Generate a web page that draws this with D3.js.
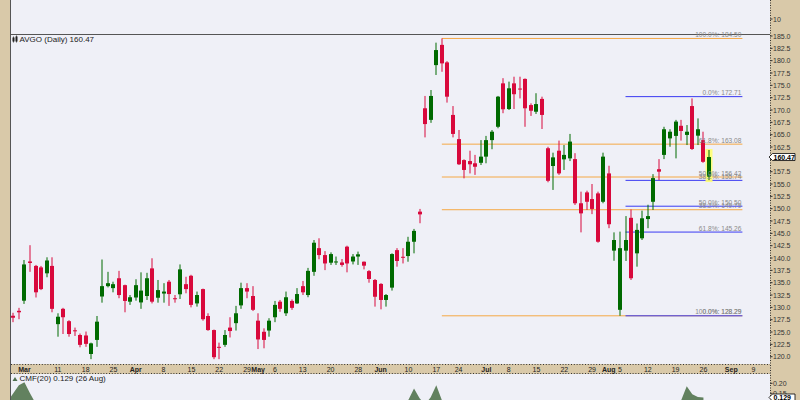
<!DOCTYPE html>
<html><head><meta charset="utf-8">
<script src="https://cdn.jsdelivr.net/npm/d3@7"></script>
<style>
body{margin:0;background:#fff}
svg{display:block}
text{font-family:"Liberation Sans",Arial,sans-serif}
</style>
</head><body>
<svg id="c" width="800" height="400"></svg>
<script>
// ---------------- DATA ----------------
const symbol = "AVGO (Daily) 160.47";
const cmfTitle = "CMF(20) 0.129 (26 Aug)";
const firstDay = "2024-02-27", lastDay = "2024-09-16";
const holidays = ["2024-03-29","2024-05-27","2024-06-19","2024-07-04","2024-09-02"];
const firstCandle = "2024-02-28";

const opens = [128.3,129.3,131.35,139.3,138.4,138.1,136.9,138.4,126.6,129.7,
 127.2,125.35,124.4,124.3,120.55,123.4,132.2,134.3,133.9,135.9,
 134.5,131.15,132.0,131.0,132.3,137.9,131.95,132.8,135.2,131.85,
 132.65,134.7,136.4,130.8,133.7,128.25,125.4,122.0,122.4,125.9,
 126.8,130.4,133.9,132.3,127.3,125.05,125.3,128.0,131.15,128.8,
 131.3,130.8,134.3,132.5,137.2,142.0,140.6,139.05,139.2,139.1,
 142.3,139.3,140.3,139.25,137.35,135.55,134.75,131.5,134.0,141.6,
 140.25,140.4,143.3,149.4,170.35,168.0,179.1,183.2,179.65,169.0,
 164.1,159.85,159.65,159.2,159.3,160.55,163.9,166.6,175.4,170.2,
 175.4,174.35,176.3,171.0,169.65,172.25,162.25,158.65,161.75,160.0,
 160.2,160.05,151.1,153.3,151.95,153.1,151.4,157.15,141.5,129.5,
 141.5,148.15,140.95,144.0,147.9,151.4,158.0,160.9,164.25,164.75,
 166.8,164.95,170.8,164.8,163.9,156.5];
const highs = [128.9,129.9,139.6,142.6,138.6,138.4,140.15,140.15,128.8,129.9,
 127.4,125.9,124.7,125.1,122.85,128.25,139.7,137.2,135.2,137.4,
 134.6,132.5,135.7,137.1,137.0,139.95,135.55,134.9,135.55,132.5,
 138.7,136.2,136.6,133.2,133.8,128.8,125.5,122.85,125.4,128.0,
 130.3,135.0,134.9,134.3,128.8,125.75,127.8,131.3,131.5,133.2,
 131.6,133.9,135.35,138.0,143.65,144.0,141.4,141.15,140.3,139.8,
 142.5,140.8,141.3,139.3,137.55,135.75,134.9,132.7,140.95,142.0,
 142.0,144.3,145.9,149.95,172.85,174.05,183.65,184.5,179.9,170.8,
 165.95,160.0,161.75,160.9,163.9,164.75,165.95,172.85,176.45,175.75,
 176.75,176.75,176.4,171.35,173.4,172.7,162.55,161.35,163.8,162.9,
 165.15,161.25,153.45,153.65,155.0,153.45,161.35,158.7,145.2,145.35,
 148.5,149.85,147.0,149.6,150.8,157.0,160.05,166.6,166.1,168.0,
 168.0,166.95,172.35,168.3,165.6,161.9];
const lows = [127.0,127.6,130.7,137.2,132.0,133.5,136.1,129.0,124.05,124.6,
 124.05,124.2,121.9,122.0,119.5,122.0,130.95,134.05,133.05,131.85,
 129.0,130.5,131.35,129.7,131.5,130.8,130.95,130.95,130.3,130.95,
 131.7,132.85,130.0,130.15,127.3,125.25,119.5,119.5,122.0,123.9,
 125.3,129.7,131.85,129.25,121.55,121.7,124.05,127.0,129.1,128.25,
 129.5,130.7,132.5,132.05,136.4,139.75,137.55,138.6,138.6,138.25,
 137.1,138.7,138.6,137.7,135.0,130.15,129.6,130.15,133.4,138.25,
 138.9,139.25,140.95,147.05,164.45,167.4,177.1,177.75,171.5,164.45,
 158.85,156.15,157.15,156.85,158.85,159.2,162.05,166.3,169.35,170.0,
 170.2,172.35,166.6,168.8,169.2,166.15,155.35,153.8,156.85,157.85,
 159.65,150.75,145.2,149.75,148.9,143.1,151.1,146.05,139.45,128.29,
 139.4,135.55,138.25,143.65,146.05,149.75,155.8,160.05,162.55,160.2,
 163.8,162.9,161.9,162.9,159.3,155.8];
const closes = [127.9,129.0,138.7,139.0,133.05,133.7,139.5,129.7,128.1,128.0,
 124.6,125.2,122.4,122.6,122.7,127.1,134.3,134.9,134.7,132.5,
 131.3,132.05,134.5,133.4,135.9,131.15,133.5,133.2,132.7,131.7,
 137.7,133.7,130.5,132.5,127.6,125.4,119.9,121.85,124.4,125.2,
 128.8,133.9,133.2,129.5,123.5,123.4,127.3,130.5,129.7,132.05,
 129.9,132.7,133.05,137.4,143.1,140.6,138.9,140.8,139.3,138.6,
 138.9,140.3,140.75,138.45,135.75,132.15,131.5,132.5,140.8,139.4,
 140.1,143.3,145.5,148.85,167.15,172.85,182.15,179.45,172.7,165.15,
 159.0,157.85,159.0,158.5,160.55,163.9,165.6,172.7,170.15,174.4,
 173.2,174.2,170.35,169.85,171.2,169.0,155.65,160.4,157.15,160.9,
 163.6,151.1,149.05,151.4,149.95,143.3,160.55,146.85,143.65,142.0,
 143.65,135.9,145.7,148.05,148.5,156.2,157.5,166.1,165.6,167.65,
 165.75,165.6,162.1,166.1,159.5,160.47];

// Chaikin Money Flow (only tops above ~0.115 are visible in the panel)
const cmfDates = ["2024-02-27","2024-02-28","2024-02-29","2024-03-01","2024-03-04","2024-03-05","2024-03-06",
 "2024-03-15","2024-04-05","2024-04-26","2024-05-17","2024-06-05","2024-06-07","2024-06-10","2024-06-11",
 "2024-06-12","2024-06-13","2024-06-14","2024-06-17","2024-06-18","2024-06-20","2024-06-21","2024-07-10",
 "2024-07-24","2024-08-05","2024-08-15","2024-08-19","2024-08-20","2024-08-21","2024-08-22","2024-08-23","2024-08-26"];
const cmfValues = [0.11,0.15,0.19,0.205,0.15,0.10,0.08,
 0.02,0.0,-0.05,0.03,0.07,0.09,0.118,0.174,
 0.125,0.095,0.13,0.19,0.116,0.09,0.08,0.05,
 0.0,-0.05,0.08,0.10,0.115,0.185,0.145,0.132,0.129];

// Fibonacci retracement levels
const fibOrangeLevels = [184.50,163.08,156.42,149.79,128.29];
const fibOrangeText = ["100.0%: 184.50","61.8%: 163.08","50.0%: 156.42","38.2%: 149.79","0.0%: 128.29"];
const fibOrangeSpan = ["2024-06-18","2024-09-05"];
const fibBlueLevels = [172.71,155.74,150.50,145.26,128.29];
const fibBlueText = ["0.0%: 172.71","38.2%: 155.74","50.0%: 150.50","61.8%: 145.26","100.0%: 128.29"];
const fibBlueSpan = ["2024-08-06","2024-09-05"];

const priceTicks = [120,122.5,125,127.5,130,132.5,135,137.5,140,142.5,145,147.5,150,152.5,155,157.5,160,162.5,165,167.5,170,172.5,175,177.5,180,182.5,185];
const lastPrice = 160.47;
const cmfTicks = [0.15,0.20];
const cmfLast = 0.129;
const tickDates = ["2024-03-01","2024-03-11","2024-03-18","2024-03-25","2024-04-01","2024-04-08","2024-04-15","2024-04-22","2024-04-29",
 "2024-05-01","2024-05-06","2024-05-13","2024-05-20","2024-05-28","2024-06-03","2024-06-10","2024-06-17","2024-06-24",
 "2024-07-01","2024-07-08","2024-07-15","2024-07-22","2024-07-29","2024-08-01","2024-08-05","2024-08-12","2024-08-19","2024-08-26",
 "2024-09-03","2024-09-09"];
const tickText = ["Mar","11","18","25","Apr","8","15","22","29","May","6","13","20","28","Jun","10","17","24",
 "Jul","8","15","22","29","Aug","5","12","19","26","Sep","9"];

// ---------------- BUILD ----------------
const parse = d3.utcParse("%Y-%m-%d"), fmt = d3.utcFormat("%Y-%m-%d");
const hol = new Set(holidays);
const days = [];
for (let d = parse(firstDay); d <= parse(lastDay); d = d3.utcDay.offset(d, 1)) {
  const wd = d.getUTCDay(), s = fmt(d);
  if (wd !== 0 && wd !== 6 && !hol.has(s)) days.push(s);
}
const dIdx = new Map(days.map((d, i) => [d, i]));
const c0 = dIdx.get(firstCandle);
const candles = opens.map((o, i) => ({date: days[c0 + i], o, h: highs[i], l: lows[i], c: closes[i]}));

const PL = 11, PR = 770;
const x = d3.scaleLinear().domain([dIdx.get(firstCandle), dIdx.get(firstCandle) + 125]).range([13.3, 709]);
const xd = s => x(dIdx.get(s));
const y = d3.scaleLinear().domain([120, 185]).range([356.7, 36]);
const yc = d3.scaleLinear().domain([0.15, 0.20]).range([393.3, 383.3]);

const svg = d3.select("#c");
const bg = "#eff0f7", tan = "#d9c9a9";
const UP = "#006a00", DN = "#d8093c";

svg.append("rect").attr("width", 800).attr("height", 400).attr("fill", bg);
svg.append("rect").attr("x", 0).attr("y", 0).attr("width", 10).attr("height", 400).attr("fill", tan);
svg.append("rect").attr("x", PR).attr("y", 0).attr("width", 30).attr("height", 400).attr("fill", tan);
svg.append("rect").attr("x", PL).attr("y", 364).attr("width", PR - PL).attr("height", 10).attr("fill", tan);
svg.append("line").attr("x1", 10.5).attr("x2", 10.5).attr("y1", 0).attr("y2", 400).attr("stroke", "#555");
svg.append("line").attr("x1", PL).attr("x2", PR).attr("y1", 34.5).attr("y2", 34.5).attr("stroke", "#555");
[364.5, 373.5].forEach(yy => svg.append("line").attr("x1", PL).attr("x2", PR).attr("y1", yy).attr("y2", yy)
  .attr("stroke", "#333").attr("stroke-dasharray", "1,1.8"));
svg.append("line").attr("x1", 770.5).attr("x2", 770.5).attr("y1", 0).attr("y2", 400)
  .attr("stroke", "#333").attr("stroke-dasharray", "1,1.5");

const defs = svg.append("defs");
defs.append("clipPath").attr("id", "mainClip").append("rect").attr("x", PL).attr("y", 35).attr("width", PR - PL).attr("height", 329);
defs.append("clipPath").attr("id", "cmfClip").append("rect").attr("x", PL).attr("y", 375).attr("width", PR - PL).attr("height", 25);

// ---- Fibonacci lines
const main = svg.append("g").attr("clip-path", "url(#mainClip)");
function fib(levels, texts, span, color) {
  const x1 = xd(span[0]), x2 = xd(span[1]);
  levels.forEach(v => {
    main.append("line").attr("x1", x1).attr("x2", x2).attr("y1", y(v)).attr("y2", y(v))
      .attr("stroke", color).attr("stroke-width", 1);
  });
  return {x2, levels, texts};
}
const fo = fib(fibOrangeLevels, fibOrangeText, fibOrangeSpan, "#f5a845");
const fb = fib(fibBlueLevels, fibBlueText, fibBlueSpan, "#3a3af2");

// ---- yellow highlight on last candle
const lastC = candles[candles.length - 1];
{
  const xr = Math.round(xd(lastC.date));
  main.append("rect").attr("x", xr - 3.5).attr("width", 7)
    .attr("y", y(lastC.h) - 1).attr("height", y(lastC.l) - y(lastC.h) + 3)
    .attr("fill", "#ffff70").attr("opacity", 0.9);
}

// ---- candles
const cg = main.append("g");
candles.forEach(d => {
  const xr = Math.round(xd(d.date));
  const col = d.c >= d.o ? UP : DN;
  cg.append("line").attr("x1", xr).attr("x2", xr).attr("y1", y(d.h)).attr("y2", y(d.l))
    .attr("stroke", col).attr("stroke-width", 1);
  const top = y(Math.max(d.o, d.c)), bot = y(Math.min(d.o, d.c));
  cg.append("rect").attr("x", xr - 2).attr("width", 4).attr("y", top).attr("height", Math.max(1, bot - top))
    .attr("fill", col);
});

// ---- fib labels
function fibLabels(f) {
  f.levels.forEach((v, i) => {
    svg.append("text").attr("x", f.x2 - 1).attr("y", y(v) - 1.3).attr("text-anchor", "end")
      .attr("font-size", 6.6).attr("fill", "#8a8a8a").text(f.texts[i]);
  });
}
fibLabels(fo);
fibLabels(fb);

// ---- title
function candleIcon(g, x0, y0) {
  g.append("rect").attr("x", x0).attr("y", y0 + 1).attr("width", 2).attr("height", 4).attr("fill", "#222");
  g.append("rect").attr("x", x0 + 3).attr("y", y0).attr("width", 2).attr("height", 5).attr("fill", "#222");
  g.append("line").attr("x1", x0 + 1).attr("x2", x0 + 1).attr("y1", y0).attr("y2", y0 + 6).attr("stroke", "#222").attr("stroke-width", 0.7);
  g.append("line").attr("x1", x0 + 4).attr("x2", x0 + 4).attr("y1", y0 - 1).attr("y2", y0 + 6).attr("stroke", "#222").attr("stroke-width", 0.7);
}
candleIcon(svg, 12.5, 36.5);
svg.append("text").attr("x", 19.5).attr("y", 41.6).attr("font-size", 8).attr("fill", "#222").text(symbol);

// ---- right price axis
const ax = svg.append("g");
priceTicks.forEach(v => {
  ax.append("line").attr("x1", 770).attr("x2", 772.5).attr("y1", y(v)).attr("y2", y(v)).attr("stroke", "#333");
  // label hidden where the last-price tag sits
  if (Math.abs(y(v) - y(lastPrice)) > 6)
    ax.append("text").attr("x", 773).attr("y", y(v) + 2.5).attr("font-size", 7).attr("fill", "#333").text(v.toFixed(1));
});
ax.append("line").attr("x1", 770).attr("x2", 772.5).attr("y1", 19).attr("y2", 19).attr("stroke", "#333");
ax.append("text").attr("x", 773).attr("y", 21.5).attr("font-size", 7).attr("fill", "#333").text("10");

function priceTag(yy, txt) {
  ax.append("path").attr("d", `M769,${yy} L772.5,${yy - 3.5} L795,${yy - 3.5} L795,${yy + 3.5} L772.5,${yy + 3.5} Z`)
    .attr("fill", "#fff").attr("stroke", "#000").attr("stroke-width", 0.8);
  ax.append("text").attr("x", 773.5).attr("y", yy + 2.5).attr("font-size", 7).attr("font-weight", "bold")
    .attr("fill", "#000").text(txt);
}
priceTag(y(lastPrice), lastPrice.toFixed(2));

// ---- x axis labels
tickDates.forEach((s, i) => {
  const bold = isNaN(+tickText[i]);
  svg.append("text").attr("x", xd(s)).attr("y", 371.6).attr("text-anchor", "middle")
    .attr("font-size", 7).attr("font-weight", bold ? "bold" : "normal").attr("fill", "#222").text(tickText[i]);
});

// ---- CMF panel
const cmfPts = cmfDates.map((s, i) => ({x: xd(s), v: cmfValues[i]}));
const area = d3.area().x(d => d.x).y0(yc(0)).y1(d => yc(d.v));
svg.append("g").attr("clip-path", "url(#cmfClip)").append("path").datum(cmfPts).attr("d", area)
  .attr("fill", "#62815f");
svg.append("path").attr("d", "M12.5,381 L15,377 L17.5,381 Z").attr("fill", "#4f6f4f");
svg.append("text").attr("x", 19.5).attr("y", 381.2).attr("font-size", 8).attr("fill", "#222").text(cmfTitle);
cmfTicks.forEach(v => {
  ax.append("line").attr("x1", 770).attr("x2", 772.5).attr("y1", yc(v)).attr("y2", yc(v)).attr("stroke", "#333");
  ax.append("text").attr("x", 773).attr("y", yc(v) + 2.5).attr("font-size", 7).attr("fill", "#333").text(v.toFixed(2));
});
priceTag(yc(cmfLast), cmfLast.toFixed(3));
</script>
</body></html>
